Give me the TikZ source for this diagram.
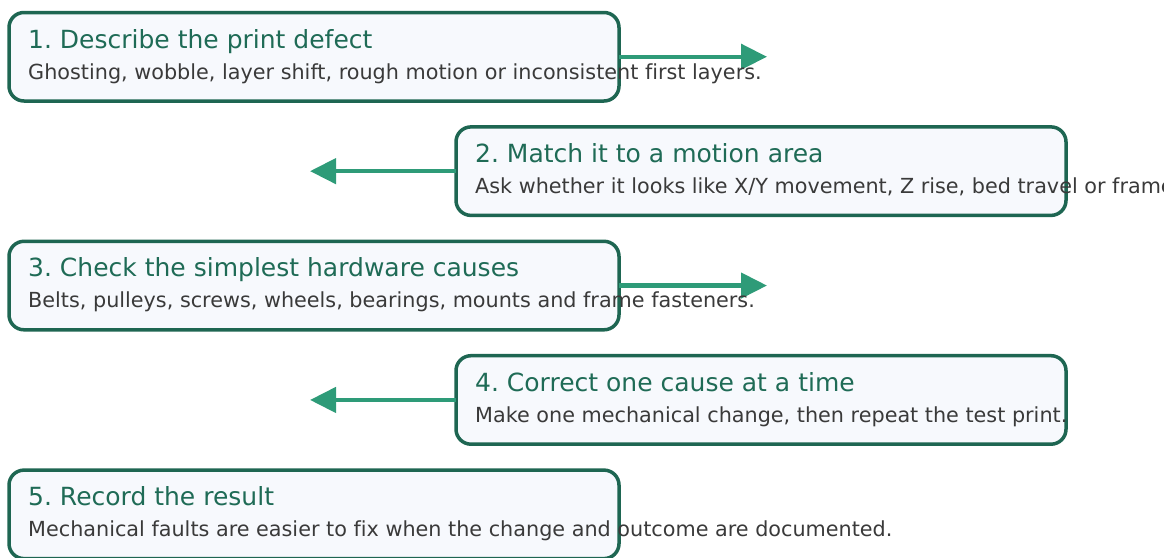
\documentclass[tikz,border=0pt]{standalone}
\usepackage{fontspec}
\setmainfont{DejaVu Sans}[Ligatures={NoCommon}]
\usetikzlibrary{arrows.meta,calc}
\definecolor{boxborder}{HTML}{1E6652}
\definecolor{boxfill}{HTML}{F7F9FD}
\definecolor{titlegreen}{HTML}{1F6B56}
\definecolor{bodygray}{HTML}{3A3A3A}
\definecolor{arrowgreen}{HTML}{2E9B78}
\frenchspacing
\tikzset{
  stepbox/.style={draw=boxborder, fill=boxfill, line width=3.5pt, rounded corners=15pt,
    minimum width=610pt, minimum height=88.5pt, inner sep=0pt, outer sep=0pt, anchor=north west},
  titletext/.style={anchor=base west, inner sep=0pt, text=titlegreen, font=\fontsize{25pt}{30pt}\selectfont},
  bodytext/.style={anchor=base west, inner sep=0pt, text=bodygray, font=\fontsize{20.75pt}{25pt}\selectfont},
  flowarrow/.style={draw=arrowgreen, line width=4.5pt, -{Triangle[length=26pt,width=25pt]}},
}
\begin{document}
\begin{tikzpicture}[x=1pt,y=-1pt]
\useasboundingbox (0,0) rectangle (1164,557);
\begin{scope}
\clip (0,0) rectangle (1164,557);
% boxes
\node[stepbox] (b1) at (9,12.5) {};
\node[stepbox] (b2) at (456,126.9) {};
\node[stepbox] (b3) at (9,241.3) {};
\node[stepbox] (b4) at (456,355.7) {};
\node[stepbox] (b5) at (9,470.1) {};
% arrow ends
\coordinate (e1) at (767,0 |- b1.east);
\coordinate (e2) at (310,0 |- b2.west);
\coordinate (e3) at (767,0 |- b3.east);
\coordinate (e4) at (310,0 |- b4.west);
\draw[flowarrow] (b1.east) -- (e1 |- b1.east);
\draw[flowarrow] (b2.west) -- (e2 |- b2.west);
\draw[flowarrow] (b3.east) -- (e3 |- b3.east);
\draw[flowarrow] (b4.west) -- (e4 |- b4.west);
% texts
\node[titletext] (t1) at ($(b1.north west)+(19,35.5)$) {1. Describe the print defect};
\node[bodytext] (d1) at ($(b1.north west)+(19,66.5)$) {Ghosting, wobble, layer shift, rough motion or inconsistent first layers.};
\node[titletext] (t2) at ($(b2.north west)+(19,35.5)$) {2. Match it to a motion area};
\node[bodytext] (d2) at ($(b2.north west)+(19,66.5)$) {Ask whether it looks like X/Y movement, Z rise, bed travel or frame movement.};
\node[titletext] (t3) at ($(b3.north west)+(19,35.5)$) {3. Check the simplest hardware causes};
\node[bodytext] (d3) at ($(b3.north west)+(19,66.5)$) {Belts, pulleys, screws, wheels, bearings, mounts and frame fasteners.};
\node[titletext] (t4) at ($(b4.north west)+(19,35.5)$) {4. Correct one cause at a time};
\node[bodytext] (d4) at ($(b4.north west)+(19,66.5)$) {Make one mechanical change, then repeat the test print.};
\node[titletext] (t5) at ($(b5.north west)+(19,35.5)$) {5. Record the result};
\node[bodytext] (d5) at ($(b5.north west)+(19,66.5)$) {Mechanical faults are easier to fix when the change and outcome are documented.};
\end{scope}
\end{tikzpicture}
\end{document}
